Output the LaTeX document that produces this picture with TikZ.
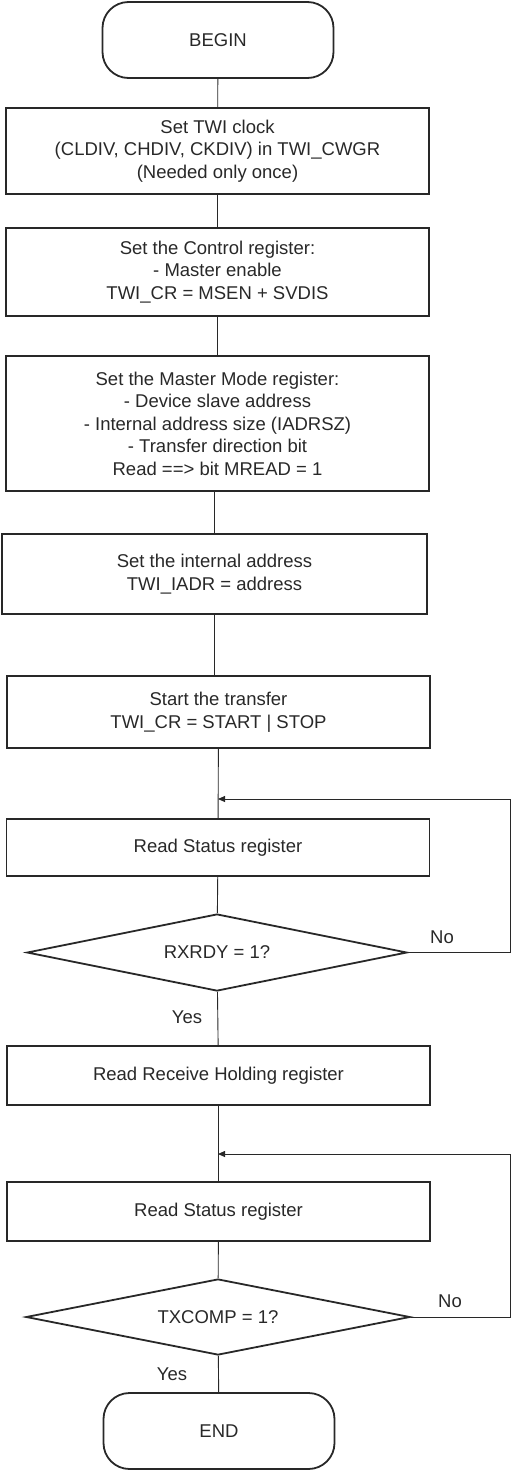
\documentclass[tikz,border=0pt]{standalone}
\usepackage{fontspec}
\setmainfont{Liberation Sans}
\usetikzlibrary{shapes.geometric,arrows.meta}
\definecolor{inkgray}{RGB}{40,40,40}

\begin{document}
\begin{tikzpicture}[x=1pt, y=-1pt,
    txt/.style={font=\fontsize{18.5}{22.5}\selectfont, text=inkgray},
    box/.style={txt, draw=inkgray, line width=1.8pt, minimum width=423pt, align=center},
    term/.style={box, rounded corners=26pt, minimum width=231pt, minimum height=76pt},
    decision/.style={txt, diamond, aspect=5, draw=inkgray, line width=1.8pt, inner sep=0pt, minimum width=380pt, minimum height=77pt},
    link/.style={draw=inkgray, line width=0.9pt},
    arr/.style={link, -{Triangle[length=7pt, width=6pt]}}
]
    \useasboundingbox (0,0) rectangle (511,1470);

    % Boxes
    \node[term] (begin) at (218,40) {BEGIN};
    \node[box, minimum height=86pt] (clock) at (217.5,151) {Set TWI clock\\(CLDIV, CHDIV, CKDIV) in TWI\_CWGR\\(Needed only once)};
    \node[box, minimum height=88pt] (ctrl) at (217.5,272) {Set the Control register:\\- Master enable\\TWI\_CR = MSEN + SVDIS};
    \node[box, minimum height=135pt] (mode) at (217.5,423.5) {Set the Master Mode register:\\- Device slave address\\- Internal address size (IADRSZ)\\- Transfer direction bit\\Read ==> bit MREAD = 1};
    \node[box, minimum width=425pt, minimum height=80pt] (iadr) at (214.5,574) {Set the internal address\\TWI\_IADR = address};
    \node[box, minimum height=72pt] (start) at (218.5,712) {Start the transfer\\TWI\_CR = START | STOP};
    \node[box, minimum height=57pt] (status1) at (218,847.5) {Read Status register};
    \node[decision] (rxrdy) at (217,952.5) {RXRDY = 1?};
    \node[box, minimum height=59pt] (rhr) at (218.5,1075.5) {Read Receive Holding register};
    \node[box, minimum height=59pt] (status2) at (218.5,1211.5) {Read Status register};
    \node[decision, minimum width=384pt, minimum height=76pt] (txcomp) at (218,1317) {TXCOMP = 1?};
    \node[term] (end) at (219,1431) {END};

    % Loop points
    \coordinate (j1) at (218,799);
    \coordinate (c1) at (510,799);
    \coordinate (j2) at (218,1154);
    \coordinate (c2) at (510,1154);

    % Arrows
    \draw[link] (begin) -- (clock);
    \draw[link] (clock) -- (ctrl);
    \draw[link] (ctrl) -- (mode);
    \draw[link] (mode.south -| iadr) -- (iadr);
    \draw[link] (iadr) -- (iadr |- start.north);
    \draw[link] (start) -- (status1);
    \draw[link] (status1) -- (rxrdy);
    \draw[link] (rxrdy) -- (rhr);
    \draw[link] (rhr) -- (status2);
    \draw[link] (status2) -- (txcomp);
    \draw[link] (txcomp) -- (end);
    \draw[arr] (rxrdy.east) -| (c1) -- (j1);
    \draw[arr] (txcomp.east) -| (c2) -- (j2);

    % Labels
    \node[txt] (no1) at (442,937) {No};
    \node[txt] (yes1) at (187,1017) {Yes};
    \node[txt] (no2) at (450,1301) {No};
    \node[txt] (yes2) at (172,1374) {Yes};
\end{tikzpicture}
\end{document}
